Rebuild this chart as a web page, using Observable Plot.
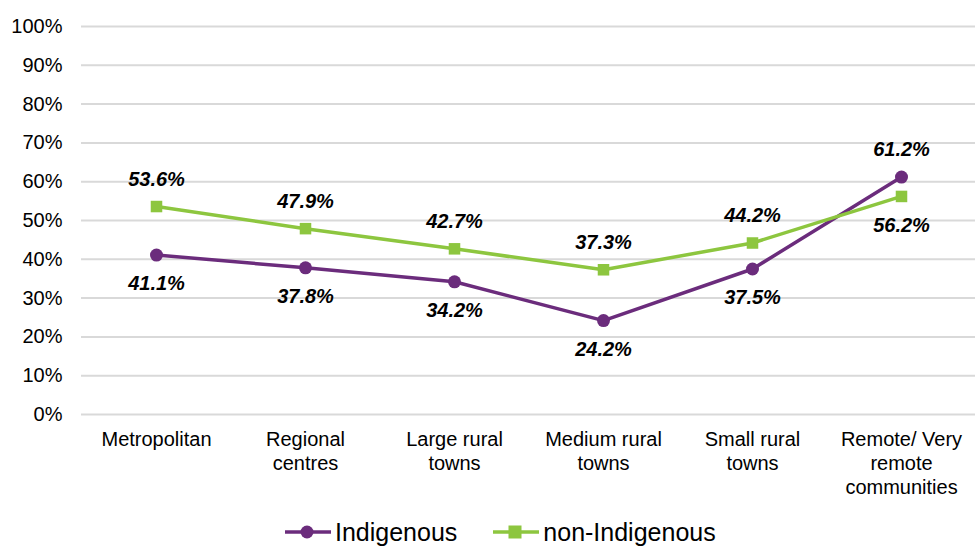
<!DOCTYPE html>
<html>
<head>
<meta charset="utf-8">
<script src="https://cdn.jsdelivr.net/npm/d3@7"></script>
<script src="https://cdn.jsdelivr.net/npm/@observablehq/plot@0.6"></script>
<style>
  html, body { margin: 0; padding: 0; background: #fff; }
  body { width: 975px; height: 548px; overflow: hidden; font-family: "Liberation Sans", Arial, sans-serif; }
  #legend { display: flex; justify-content: flex-start; align-items: center; height: 30px; padding-top: 2px; padding-left: 285px; font-size: 25px; line-height: 28px; color: #000; }
  .item { display: flex; align-items: center; margin-right: 36px; }
  .item svg { margin-right: 4px; }
</style>
</head>
<body>
<div id="chart"></div>
<div id="legend"></div>
<script>
const categories = ["Metropolitan", "Regional centres", "Large rural towns", "Medium rural towns", "Small rural towns", "Remote/ Very remote communities"];
const tickLabels = ["Metropolitan", "Regional\ncentres", "Large rural\ntowns", "Medium rural\ntowns", "Small rural\ntowns", "Remote/ Very\nremote\ncommunities"];
const seriesNames = ["Indigenous", "non-Indigenous"];
const indigenous = [41.1, 37.8, 34.2, 24.2, 37.5, 61.2];
const nonIndigenous = [53.6, 47.9, 42.7, 37.3, 44.2, 56.2];
const yTicks = [0, 10, 20, 30, 40, 50, 60, 70, 80, 90, 100];
const colors = ["#6B2C7C", "#8DC63F"];

const valuesBySeries = [indigenous, nonIndigenous];
const data = [];
seriesNames.forEach((s, si) => {
  categories.forEach((c, ci) => {
    const v = valuesBySeries[si][ci];
    const other = valuesBySeries[1 - si][ci];
    data.push({series: s, category: c, value: v, above: v > other});
  });
});

const labelOf = new Map(categories.map((c, i) => [c, tickLabels[i]]));

const chart = Plot.plot({
  width: 975,
  height: 515,
  marginLeft: 81,
  marginRight: 0,
  marginTop: 26,
  marginBottom: 101,
  style: {fontFamily: "'Liberation Sans', Arial, sans-serif", fontSize: "20px", color: "#000", background: "#fff"},
  x: {type: "point", domain: categories, padding: 0.5},
  y: {domain: [0, 100]},
  color: {domain: seriesNames, range: colors},
  marks: [
    Plot.gridY(yTicks, {stroke: "#d9d9d9", strokeOpacity: 1, strokeWidth: 2}),
    Plot.axisY(yTicks, {tickSize: 0, tickPadding: 19, tickFormat: d => d + "%", fontSize: 20, label: null}),
    Plot.axisX({tickSize: 0, tickPadding: 14, tickFormat: d => labelOf.get(d), fontSize: 20, lineHeight: 1.2, label: null}),
    Plot.line(data, {x: "category", y: "value", z: "series", stroke: "series", strokeWidth: 3.5}),
    Plot.dot(data.filter(d => d.series === "Indigenous"), {x: "category", y: "value", fill: colors[0], r: 6.5, symbol: "circle"}),
    Plot.dot(data.filter(d => d.series === "non-Indigenous"), {x: "category", y: "value", fill: colors[1], r: 6.5, symbol: "square"}),
    Plot.text(data.filter(d => d.above), {x: "category", y: "value", text: d => d.value.toFixed(1) + "%", dy: -27, fontSize: 20, fontWeight: "bold", fontStyle: "italic", fill: "#000"}),
    Plot.text(data.filter(d => !d.above), {x: "category", y: "value", text: d => d.value.toFixed(1) + "%", dy: 29, fontSize: 20, fontWeight: "bold", fontStyle: "italic", fill: "#000"})
  ]
});
document.getElementById("chart").appendChild(chart);

const legend = document.getElementById("legend");
seriesNames.forEach((s, i) => {
  const item = document.createElement("div");
  item.className = "item";
  const marker = i === 0
    ? `<circle cx="22" cy="10" r="6.5" fill="${colors[i]}"/>`
    : `<rect x="15.5" y="3.5" width="13" height="13" fill="${colors[i]}"/>`;
  item.innerHTML = `<svg width="46" height="20"><line x1="0" y1="10" x2="46" y2="10" stroke="${colors[i]}" stroke-width="3.5"/>${marker}</svg><span>${s}</span>`;
  legend.appendChild(item);
});
</script>
</body>
</html>
